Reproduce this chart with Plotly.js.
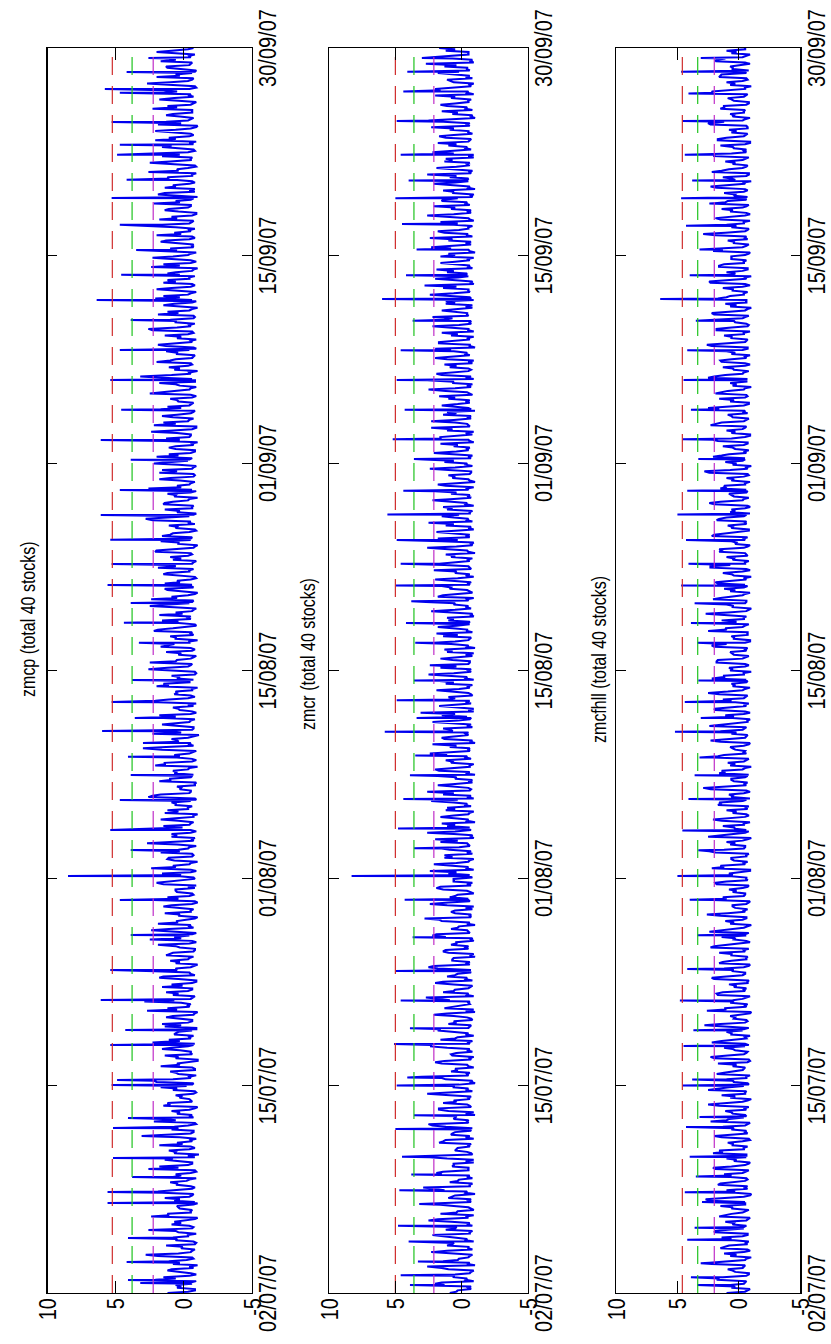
<!DOCTYPE html>
<html><head><meta charset="utf-8">
<script src="https://cdn.plot.ly/plotly-3.0.1.min.js"></script>
<style>
html,body{margin:0;padding:0;background:#fff;overflow:hidden;}
#wrap{position:relative;width:831px;height:1344px;overflow:hidden;background:#fff;}
#plot{position:absolute;left:0;top:0;width:1344px;height:681px;transform-origin:0 0;transform:translate(0px,1344px) rotate(-90deg) scale(1,1.22);}
</style></head>
<body><div id="wrap"><div id="plot"></div></div>
<script>
// ---- data ----
const dateTickLabels = ['02/07/07','15/07/07','01/08/07','15/08/07','01/09/07','15/09/07','30/09/07'];
const tradingDays = 63;
const valueTicks = [-5, 0, 5, 10];
const valueTickLabels = ['-5', '0', '5', '10'];
const panelTitles = ['zmcp (total 40 stocks)', 'zmcr (total 40 stocks)', 'zmcfhll (total 40 stocks)'];

// thresholds: red, green, magenta dashed levels
const thrZmcp = [5.25, 3.8, 2.25];
const thrZmcr = [5.0, 3.6, 2.1];
const thrZmcfhll = [4.6, 3.35, 2.0];

// intraday z-score band, sample set A
const baseZmcp = [
1.2,-0.8,0.6,-0.9,1.5,-0.5,0.9,-1.0,1.1,-0.6,0.4,-0.8,1.3,-0.7,0.8,
-0.9,1.6,-0.4,0.7,-1.0,1.2,-0.6,0.5,-0.8,1.4,-0.7,0.9,-0.5,1.0,-0.9,
0.6,-0.8,1.8,-0.6,0.8,-1.1,1.1,-0.5,0.5,-0.9,1.3,-0.7,0.7,-0.8,1.5,
-0.6,0.9,-1.0,1.2,-0.4,0.6,-0.8,1.7,-0.7,0.8,-0.9,1.0,-0.6,0.5,-1.0,
1.4,-0.5,0.9,-0.8,1.1,-0.7,0.4,-0.9,1.6,-0.6,0.8,-1.0,1.2,-0.5,0.7,
-0.8,1.3,-0.6,0.9,-0.9,1.5,-0.4,0.6,-1.0,1.0,-0.7,0.8,-0.8,1.9,-0.6,
0.7,-0.9,1.1,-0.5,0.5,-1.0,1.4,-0.7,0.9,-0.8,1.2,-0.6,0.6,-0.9,1.0,
-0.7,1.6,-0.5,0.8,-1.0,1.1,-0.6,0.4,-0.9,1.3,-0.8,0.9,-0.5,1.5,-0.7,
0.6,-1.0,1.2,-0.6,0.9,-0.8,1.7,-0.5,0.5,-0.9,1.0,-0.7,0.8,-1.0,1.4,
-0.6,0.7,-0.9,1.3,-0.5,0.9,-1.1,1.0,-0.7,0.6,-0.8,1.8,-0.6,0.8,-0.9,
1.1,-0.5,0.6,-1.0,1.5,-0.7,0.9,-0.8,1.2,-0.6,0.5,-0.9,1.3,-0.5,0.7,
-1.0,1.0,-0.6,0.8,-0.8,1.6,-0.5,0.6,-0.9,1.1,-0.7,0.9,-1.0,1.4,-0.6,
0.5,-0.8,1.2,-0.7,0.9,-0.9,1.0,-0.5,0.7,-1.0,1.7,-0.6,0.8,-0.8,1.1,
-0.5,0.6,-0.9,1.4,-0.7,0.8,-1.0,1.2,-0.6,0.5,-0.8,1.0,-0.7,1.6,-0.9,
0.9,-0.6,1.1,-0.8,0.6,-1.0,1.3,-0.5,0.8,-0.9,1.5,-0.7,0.5,-0.8,1.2,
-0.7,1.0,-0.5,0.7,-0.9,1.8,-0.6,0.9,-1.0,1.1,-0.5,0.6,-0.8,1.3,-0.7,
0.8,-0.9,1.4,-0.6,0.5,-0.8,1.0,-0.7,1.2,-1.0,0.7,-0.6,1.5,-0.9,0.9,
-0.6,1.2,-0.8,0.6,-1.0,1.5,-0.5,0.8,-0.9,1.0,-0.7,1.3,-0.6,0.7,-0.8,
1.6,-0.7,0.9,-0.9,1.1,-0.5,0.6,-1.0,1.4,-0.8,0.8,-0.6,1.2,-0.9,0.5,
-0.8,1.0,-0.6,1.7,-0.7,0.9,-0.9,1.1,-0.5,0.6,-1.0,1.3,-0.7,0.8,-0.6,
1.2,-0.9,0.7,-0.5,1.5,-0.8,1.0,-0.7,0.6,-0.9,1.3,-0.6,1.1,-0.8,0.9];
const baseZmcr = [
0.9,-0.7,1.3,-0.9,0.6,-0.6,1.0,-1.0,1.4,-0.5,0.7,-0.8,1.1,-0.9,0.5,
-0.6,1.2,-0.8,0.8,-0.5,1.6,-0.9,0.6,-0.7,1.0,-1.0,1.3,-0.6,0.9,-0.8,
1.5,-0.5,0.7,-0.9,1.1,-0.8,0.5,-0.6,1.7,-0.9,0.8,-0.7,1.2,-0.5,0.6,
-1.0,1.0,-0.7,1.4,-0.6,0.9,-0.8,0.6,-1.0,1.2,-0.5,0.8,-0.9,1.5,-0.7,
0.7,-0.8,1.1,-0.6,1.6,-0.9,0.8,-0.5,1.0,-0.8,0.6,-1.0,1.3,-0.6,0.9,
-0.9,1.4,-0.5,0.6,-0.8,1.1,-0.7,1.8,-0.6,0.7,-1.0,1.0,-0.5,0.8,-0.9,
1.2,-0.6,0.8,-1.0,1.5,-0.7,0.5,-0.8,1.1,-0.6,0.9,-0.9,1.4,-0.7,0.6,
-0.8,1.0,-0.9,0.7,-0.5,1.3,-0.8,0.9,-0.6,1.6,-0.9,0.6,-0.7,1.1,-1.0,
0.8,-0.5,1.2,-0.7,0.6,-0.9,1.4,-0.6,1.0,-0.8,0.5,-1.0,1.7,-0.6,0.8,
-0.7,1.1,-0.6,0.9,-1.0,1.3,-0.5,0.7,-0.8,1.0,-0.6,1.5,-0.9,0.6,-0.7,
1.0,-0.8,0.6,-0.6,1.2,-0.9,0.9,-0.7,1.6,-0.5,0.7,-0.8,1.1,-1.0,0.8,
-0.5,1.4,-0.8,0.7,-0.6,1.0,-0.9,1.2,-0.7,0.6,-0.5,1.8,-0.8,0.9,-0.6,
1.1,-0.9,0.5,-0.7,1.3,-0.6,0.8,-1.0,1.0,-0.8,1.5,-0.6,0.7,-0.9,1.2,
-0.8,0.6,-0.6,1.1,-0.9,1.4,-0.7,0.8,-0.5,1.2,-1.0,0.7,-0.6,1.0,-0.8,
1.3,-0.7,0.9,-0.5,0.6,-0.9,1.6,-0.8,1.1,-0.6,0.5,-0.7,1.4,-1.0,0.8,
-0.6,1.0,-0.8,1.2,-0.7,0.7,-0.9,1.5,-0.5,0.9,-0.8,1.1,-0.6,0.6,-1.0,
1.7,-0.6,0.8,-0.9,1.0,-0.7,1.3,-0.5,0.6,-0.8,1.2,-0.9,0.9,-0.6,1.4,
-0.9,0.7,-0.5,1.1,-0.8,0.9,-0.6,1.6,-1.0,0.8,-0.7,1.0,-0.8,1.3,-0.5,
0.6,-0.9,1.2,-0.7,0.8,-0.6,1.5,-0.8,0.7,-1.0,1.1,-0.5,0.9,-0.7,1.0,
-0.6,1.3,-0.9,0.6,-0.7,1.0,-0.5,1.2,-0.8,0.9,-0.6,1.4,-1.0,0.7,-0.8,
1.1,-0.5,0.8,-0.9,1.6,-0.7,0.6,-0.8,1.0,-0.6,1.3,-0.9,0.7,-0.5,1.2];
const baseZmcfhll = [
1.0,-0.9,0.7,-0.6,1.3,-0.8,0.9,-0.5,0.6,-1.0,1.2,-0.7,0.8,-0.8,1.4,
-0.7,0.9,-0.6,1.1,-0.9,0.6,-0.8,1.5,-0.5,0.8,-1.0,1.0,-0.7,0.7,-0.6,
1.2,-0.8,0.6,-0.9,1.0,-0.6,1.6,-0.7,0.9,-0.8,0.5,-0.6,1.3,-0.9,0.8,
-0.5,1.1,-0.8,0.7,-1.0,1.4,-0.6,0.8,-0.7,1.0,-0.9,0.6,-0.5,1.7,-0.8,
0.9,-0.7,1.2,-0.5,0.6,-0.9,1.0,-0.8,1.5,-0.6,0.7,-1.0,1.1,-0.7,0.5,
-0.9,1.3,-0.6,0.8,-0.8,1.0,-0.5,1.2,-0.9,0.6,-0.7,1.6,-0.8,0.9,-0.6,
1.4,-0.8,0.7,-1.0,1.1,-0.6,0.9,-0.7,0.5,-0.9,1.3,-0.5,0.8,-0.8,1.0,
-0.6,0.8,-0.9,1.5,-0.7,0.6,-0.8,1.2,-0.5,1.0,-1.0,0.7,-0.6,1.3,-0.9,
0.7,-0.6,1.0,-0.8,1.6,-0.9,0.8,-0.6,1.1,-0.7,0.6,-0.8,1.4,-1.0,0.9,
-0.8,1.2,-0.5,0.7,-0.9,1.0,-0.7,1.5,-0.6,0.8,-0.9,1.1,-0.5,0.6,-0.8,
1.3,-0.7,0.9,-0.9,0.6,-0.6,1.2,-1.0,0.8,-0.5,1.7,-0.8,0.7,-0.7,1.0,
-0.9,0.6,-0.7,1.1,-0.8,1.4,-0.6,0.9,-1.0,1.0,-0.6,0.7,-0.9,1.2,-0.5,
0.8,-1.0,1.3,-0.6,0.7,-0.8,1.0,-0.5,1.6,-0.9,0.6,-0.7,1.1,-0.8,0.9,
-0.6,1.0,-0.9,0.6,-0.7,1.5,-0.8,0.8,-0.6,1.2,-0.9,1.0,-0.7,0.7,-1.0,
1.1,-0.5,0.8,-0.8,1.3,-0.7,0.6,-0.9,1.0,-0.6,1.4,-0.8,0.9,-0.5,0.7,
-0.8,1.6,-0.6,0.9,-1.0,0.7,-0.7,1.1,-0.8,1.3,-0.5,0.6,-0.9,1.0,-0.7,
0.9,-0.7,1.2,-0.9,0.6,-0.6,1.5,-0.8,0.8,-1.0,1.1,-0.6,0.7,-0.7,1.3,
-0.5,0.8,-1.0,1.0,-0.7,1.2,-0.6,0.6,-0.9,1.6,-0.8,0.9,-0.6,1.1,-0.8,
1.0,-0.9,0.7,-0.6,1.4,-0.8,0.9,-0.7,1.2,-0.5,0.6,-1.0,1.3,-0.8,0.8,
-0.7,1.1,-0.8,0.6,-0.6,1.5,-0.9,1.0,-0.7,0.8,-0.6,1.2,-0.9,0.7,-0.5,
1.2,-0.8,0.9,-0.7,0.6,-1.0,1.0,-0.6,1.4,-0.8,0.7,-0.5,1.1,-0.9,1.0];

// sample set B
const midZmcp = [
-0.3,0.5,-0.6,2.1,-0.4,0.3,-0.7,0.8,-0.2,1.9,-0.5,0.2,-0.8,0.6,-0.3,
0.4,-0.6,0.9,-0.3,2.4,-0.5,0.3,-0.7,0.7,-0.4,1.6,-0.6,0.5,-0.2,0.8,
-0.5,2.6,-0.3,0.4,-0.8,0.7,-0.4,1.8,-0.6,0.3,-0.5,0.9,-0.3,2.2,-0.7,
0.5,-0.4,1.5,-0.6,0.3,-0.7,0.8,-0.2,2.0,-0.5,0.4,-0.8,1.7,-0.4,0.6,
-0.6,0.3,-0.3,2.3,-0.5,0.7,-0.6,1.4,-0.3,0.5,-0.7,2.7,-0.4,0.2,-0.5,
0.8,-0.3,1.6,-0.6,0.4,-0.8,2.1,-0.5,0.6,-0.3,1.3,-0.7,0.3,-0.4,2.5,
-0.4,0.6,-0.7,1.9,-0.3,0.4,-0.5,0.8,-0.6,2.2,-0.4,0.5,-0.8,1.5,-0.3,
0.3,-0.5,2.4,-0.4,0.7,-0.6,1.7,-0.3,0.5,-0.7,0.9,-0.5,2.0,-0.4,0.4,
-0.7,1.4,-0.3,0.6,-0.5,2.6,-0.4,0.3,-0.8,1.8,-0.5,0.7,-0.3,2.1,-0.6,
0.5,-0.4,1.6,-0.7,0.4,-0.3,2.3,-0.6,0.8,-0.4,1.5,-0.5,0.3,-0.7,1.9,
-0.3,0.7,-0.6,2.0,-0.4,0.5,-0.8,1.3,-0.3,2.5,-0.5,0.4,-0.6,1.7,-0.4,
0.6,-0.7,2.2,-0.3,0.4,-0.5,1.8,-0.6,0.7,-0.4,2.4,-0.3,0.5,-0.7,1.4,
-0.5,0.3,-0.4,1.9,-0.6,0.8,-0.3,2.1,-0.7,0.4,-0.5,1.6,-0.4,0.6,-0.8,
2.3,-0.4,0.5,-0.6,1.5,-0.3,0.7,-0.5,2.6,-0.4,0.3,-0.7,1.8,-0.6,0.4,
-0.3,2.0,-0.5,0.6,-0.7,1.4,-0.4,0.5,-0.6,2.2,-0.3,0.8,-0.5,1.7,-0.4,
0.4,-0.6,2.5,-0.4,0.3,-0.8,1.6,-0.5,0.7,-0.3,2.0,-0.6,0.5,-0.4,1.3,
-0.6,0.5,-0.3,2.3,-0.5,0.6,-0.7,1.9,-0.4,0.4,-0.6,2.1,-0.3,0.7,-0.5,
1.5,-0.4,0.3,-0.6,2.4,-0.5,0.8,-0.3,1.7,-0.7,0.5,-0.4,2.0,-0.5,0.6,
-0.4,1.8,-0.6,0.4,-0.3,2.2,-0.5,0.7,-0.8,1.4,-0.4,0.5,-0.6,2.6,-0.3,
0.7,-0.5,1.6,-0.3,0.4,-0.7,2.1,-0.4,0.6,-0.5,1.9,-0.3,0.3,-0.6,2.3,
-0.5,0.4,-0.7,1.5,-0.4,0.8,-0.3,2.0,-0.6,0.5,-0.4,1.7,-0.5,0.6,-0.3];
const midZmcr = [
0.4,-0.5,2.0,-0.3,0.6,-0.7,1.5,-0.4,0.3,-0.6,2.3,-0.5,0.7,-0.3,1.8,
-0.6,0.5,-0.4,2.5,-0.3,0.4,-0.7,1.6,-0.5,0.8,-0.3,2.1,-0.6,0.3,-0.4,
1.9,-0.5,0.6,-0.3,2.4,-0.7,0.4,-0.5,1.4,-0.3,0.7,-0.6,2.2,-0.4,0.5,
-0.3,1.7,-0.6,0.4,-0.5,2.6,-0.3,0.6,-0.7,1.5,-0.4,0.3,-0.5,2.0,-0.6,
0.8,-0.4,2.3,-0.5,0.5,-0.3,1.8,-0.6,0.4,-0.7,2.1,-0.3,0.6,-0.5,1.6,
-0.4,0.6,-0.7,2.0,-0.3,0.5,-0.5,2.5,-0.4,0.7,-0.6,1.4,-0.3,0.4,-0.7,
2.2,-0.5,0.3,-0.4,1.7,-0.6,0.8,-0.3,2.4,-0.5,0.5,-0.7,1.9,-0.4,0.6,
-0.5,0.4,-0.3,2.1,-0.6,0.7,-0.4,1.5,-0.5,0.3,-0.7,2.6,-0.3,0.5,-0.4,
1.6,-0.6,0.5,-0.3,2.3,-0.4,0.6,-0.7,1.8,-0.5,0.4,-0.3,2.0,-0.6,0.7,
-0.3,2.4,-0.5,0.4,-0.6,1.5,-0.3,0.8,-0.4,2.2,-0.7,0.5,-0.5,1.7,-0.3,
0.5,-0.7,1.9,-0.4,0.6,-0.3,2.5,-0.5,0.4,-0.6,1.6,-0.3,0.7,-0.4,2.1,
-0.6,0.3,-0.4,1.8,-0.5,0.6,-0.7,2.3,-0.3,0.5,-0.4,1.4,-0.6,0.8,-0.5,
2.0,-0.3,0.4,-0.6,1.7,-0.4,0.5,-0.5,2.6,-0.7,0.3,-0.3,1.9,-0.5,0.6,
-0.4,1.5,-0.6,0.7,-0.3,2.2,-0.5,0.4,-0.4,1.8,-0.6,0.5,-0.7,2.4,-0.3,
0.6,-0.5,2.1,-0.4,0.3,-0.6,1.6,-0.3,0.7,-0.5,2.3,-0.4,0.4,-0.7,1.5,
-0.3,0.5,-0.6,2.5,-0.4,0.6,-0.3,1.9,-0.7,0.4,-0.5,2.0,-0.3,0.8,-0.6,
1.7,-0.4,0.3,-0.5,2.2,-0.6,0.7,-0.4,1.5,-0.3,0.5,-0.7,2.4,-0.5,0.4,
-0.7,2.0,-0.3,0.6,-0.5,1.6,-0.4,0.5,-0.6,2.3,-0.3,0.7,-0.4,1.8,-0.5,
0.3,-0.6,2.6,-0.4,0.5,-0.3,1.4,-0.7,0.6,-0.5,2.1,-0.4,0.4,-0.6,1.9,
-0.4,0.7,-0.5,2.2,-0.3,0.4,-0.6,1.7,-0.5,0.6,-0.4,2.5,-0.7,0.3,-0.3,
1.6,-0.5,0.5,-0.4,2.0,-0.6,0.8,-0.3,1.8,-0.4,0.4,-0.6,2.3,-0.5,0.5];
const midZmcfhll = [
-0.5,0.6,-0.4,1.8,-0.6,0.3,-0.3,2.2,-0.5,0.7,-0.4,1.5,-0.7,0.4,-0.3,
2.0,-0.4,0.5,-0.6,1.6,-0.3,0.6,-0.5,2.4,-0.4,0.3,-0.7,1.7,-0.5,0.7,
-0.3,1.9,-0.5,0.4,-0.6,2.1,-0.4,0.5,-0.3,1.4,-0.7,0.6,-0.5,2.3,-0.4,
0.5,-0.6,1.6,-0.3,0.7,-0.5,2.5,-0.4,0.4,-0.6,1.8,-0.3,0.5,-0.7,2.0,
-0.4,0.3,-0.5,2.2,-0.6,0.6,-0.3,1.5,-0.5,0.4,-0.4,2.6,-0.6,0.7,-0.3,
1.7,-0.5,0.4,-0.7,2.0,-0.3,0.5,-0.4,1.6,-0.6,0.6,-0.5,2.3,-0.3,0.4,
-0.6,2.4,-0.4,0.7,-0.3,1.5,-0.5,0.3,-0.6,2.1,-0.4,0.5,-0.3,1.8,-0.7,
0.6,-0.3,2.2,-0.5,0.4,-0.6,1.9,-0.4,0.7,-0.3,2.5,-0.5,0.3,-0.4,1.4,
-0.5,0.5,-0.7,1.7,-0.3,0.6,-0.4,2.3,-0.6,0.4,-0.5,1.6,-0.3,0.7,-0.4,
2.1,-0.6,0.3,-0.4,1.5,-0.5,0.6,-0.3,2.4,-0.7,0.5,-0.4,1.9,-0.6,0.3,
-0.4,1.6,-0.3,0.5,-0.6,2.2,-0.4,0.7,-0.5,1.8,-0.3,0.4,-0.6,2.0,-0.5,
0.4,-0.7,2.5,-0.3,0.6,-0.4,1.4,-0.6,0.5,-0.5,2.1,-0.3,0.7,-0.4,1.7,
-0.6,0.4,-0.3,2.3,-0.5,0.5,-0.7,1.6,-0.4,0.3,-0.5,2.2,-0.3,0.6,-0.6,
1.8,-0.4,0.7,-0.5,2.0,-0.3,0.4,-0.6,1.5,-0.5,0.6,-0.4,2.4,-0.7,0.5,
-0.3,2.1,-0.6,0.3,-0.4,1.7,-0.5,0.6,-0.3,2.3,-0.4,0.5,-0.7,1.6,-0.4,
0.7,-0.5,1.9,-0.4,0.5,-0.6,2.5,-0.3,0.4,-0.5,1.4,-0.6,0.6,-0.3,2.2,
-0.5,0.6,-0.4,1.8,-0.7,0.3,-0.3,2.0,-0.5,0.7,-0.6,1.7,-0.4,0.5,-0.3,
2.3,-0.6,0.5,-0.3,1.6,-0.4,0.6,-0.5,2.1,-0.3,0.4,-0.7,1.9,-0.5,0.6,
-0.4,1.5,-0.5,0.7,-0.3,2.4,-0.6,0.4,-0.4,1.8,-0.5,0.3,-0.6,2.2,-0.3,
0.5,-0.3,2.0,-0.6,0.4,-0.5,1.7,-0.4,0.6,-0.7,2.3,-0.3,0.5,-0.4,1.5,
-0.6,0.4,-0.4,2.1,-0.5,0.7,-0.3,1.6,-0.6,0.5,-0.4,1.9,-0.3,0.6,-0.5];

// sample set C
const thirdZmcp = [
-0.8,0.2,-0.5,0.6,-0.9,1.2,-0.4,0.3,-0.7,2.8,-0.6,0.1,-0.9,0.5,-0.3,
0.6,-0.7,0.2,-0.8,1.1,-0.5,0.4,-1.0,0.3,-0.6,1.9,-0.8,0.5,-0.4,0.2,
-0.9,0.4,-0.6,1.4,-0.3,0.6,-0.8,0.1,-0.5,3.1,-0.7,0.4,-0.9,0.6,-0.4,
0.3,-0.8,1.0,-0.5,0.2,-0.9,0.5,-0.6,2.2,-0.4,0.6,-0.8,0.3,-1.0,0.4,
-0.5,1.6,-0.7,0.3,-0.4,0.6,-0.9,0.2,-0.6,1.3,-0.8,0.5,-0.3,2.9,-0.7,
0.4,-0.6,0.1,-0.9,1.8,-0.5,0.5,-0.7,0.3,-0.4,1.1,-0.8,0.6,-0.9,0.2,
-0.6,2.4,-0.4,0.5,-0.8,0.3,-0.5,1.5,-1.0,0.4,-0.7,0.6,-0.3,2.0,-0.8,
0.2,-0.9,0.6,-0.5,1.2,-0.7,0.3,-0.4,2.7,-0.6,0.5,-0.9,0.1,-0.5,1.7,
-0.7,0.4,-0.3,0.6,-0.9,2.3,-0.5,0.2,-0.8,1.0,-0.6,0.5,-0.4,1.4,-0.9,
0.3,-0.6,3.0,-0.4,0.5,-0.8,0.2,-0.7,1.6,-0.5,0.6,-0.9,0.4,-0.3,2.1,
-0.8,0.5,-0.6,1.1,-0.4,0.3,-0.9,2.6,-0.5,0.6,-0.7,0.2,-0.8,1.3,-0.4,
0.6,-0.5,1.9,-0.9,0.4,-0.3,0.1,-0.7,2.5,-0.6,0.5,-0.8,1.2,-0.5,0.3,
-0.9,1.5,-0.4,0.6,-0.7,0.2,-0.6,2.0,-0.8,0.4,-0.5,1.0,-0.9,0.5,-0.3,
2.8,-0.7,0.3,-0.6,1.4,-0.4,0.6,-0.9,0.2,-0.5,1.8,-0.8,0.5,-0.7,2.2,
-0.4,0.4,-0.8,1.1,-0.6,0.3,-0.5,2.4,-0.9,0.6,-0.4,1.6,-0.7,0.2,-0.6,
0.5,-0.9,1.3,-0.5,0.6,-0.8,3.2,-0.4,0.3,-0.6,1.0,-0.7,0.5,-0.9,1.9,
-0.5,0.2,-0.7,2.6,-0.4,0.6,-0.8,0.4,-0.6,1.5,-0.9,0.3,-0.5,2.0,-0.8,
0.6,-0.4,1.2,-0.7,0.3,-0.9,2.3,-0.5,0.5,-0.6,1.7,-0.8,0.2,-0.4,2.9,
-0.6,0.5,-0.9,1.4,-0.5,0.3,-0.7,1.9,-0.4,0.6,-0.8,1.1,-0.6,0.4,-0.9,
2.5,-0.5,0.3,-0.8,1.6,-0.4,0.6,-0.7,2.1,-0.9,0.2,-0.5,1.3,-0.6,0.5,
-0.7,1.8,-0.4,0.5,-0.9,2.7,-0.6,0.3,-0.8,1.2,-0.5,0.6,-0.4,2.0,-0.7];
const thirdZmcr = [
0.3,-0.7,1.5,-0.4,0.5,-0.9,2.6,-0.6,0.2,-0.8,1.1,-0.5,0.6,-0.4,2.2,
-0.8,0.4,-0.6,1.8,-0.9,0.3,-0.5,1.0,-0.7,0.5,-0.4,2.9,-0.8,0.2,-0.6,
1.4,-0.5,0.6,-0.9,2.0,-0.4,0.3,-0.7,1.2,-0.6,0.5,-0.8,2.5,-0.5,0.4,
-0.9,1.7,-0.4,0.6,-0.7,1.0,-0.5,0.2,-0.8,3.0,-0.6,0.5,-0.4,1.3,-0.9,
0.4,-0.6,2.3,-0.8,0.3,-0.5,1.6,-0.7,0.6,-0.4,1.1,-0.9,0.2,-0.6,2.7,
-0.5,0.5,-0.8,1.4,-0.4,0.3,-0.7,2.1,-0.6,0.6,-0.9,1.2,-0.5,0.4,-0.8,
1.9,-0.4,0.2,-0.6,2.8,-0.7,0.5,-0.9,1.0,-0.5,0.3,-0.4,1.6,-0.8,0.6,
-0.6,2.4,-0.5,0.4,-0.9,1.3,-0.7,0.2,-0.4,2.0,-0.8,0.5,-0.6,1.5,-0.5,
0.6,-0.9,1.1,-0.4,0.3,-0.7,2.6,-0.5,0.5,-0.8,1.8,-0.6,0.2,-0.9,1.2,
-0.4,0.4,-0.6,2.2,-0.8,0.6,-0.5,1.4,-0.7,0.3,-0.4,3.1,-0.9,0.5,-0.6,
1.0,-0.5,0.2,-0.8,1.7,-0.4,0.6,-0.7,2.4,-0.6,0.3,-0.9,1.3,-0.5,0.5,
-0.7,1.9,-0.4,0.4,-0.6,1.1,-0.8,0.5,-0.5,2.7,-0.9,0.2,-0.4,1.5,-0.7,
0.3,-0.6,2.1,-0.5,0.6,-0.8,1.2,-0.4,0.4,-0.9,1.8,-0.6,0.5,-0.7,2.5,
-0.5,0.2,-0.8,1.4,-0.4,0.6,-0.6,2.0,-0.9,0.3,-0.5,1.0,-0.7,0.5,-0.4,
2.9,-0.8,0.4,-0.6,1.6,-0.5,0.2,-0.9,2.3,-0.4,0.6,-0.7,1.1,-0.5,0.3,
-0.6,1.7,-0.4,0.5,-0.8,2.6,-0.7,0.3,-0.5,1.3,-0.9,0.6,-0.4,2.0,-0.6,
0.4,-0.9,1.5,-0.5,0.2,-0.7,2.2,-0.4,0.5,-0.8,1.2,-0.6,0.6,-0.5,2.8,
-0.8,0.3,-0.4,1.9,-0.6,0.5,-0.9,1.0,-0.5,0.4,-0.7,2.4,-0.4,0.2,-0.8,
1.6,-0.5,0.6,-0.7,2.1,-0.4,0.3,-0.9,1.4,-0.6,0.5,-0.5,2.6,-0.8,0.4,
-0.6,1.2,-0.9,0.2,-0.4,1.8,-0.7,0.6,-0.5,2.3,-0.6,0.3,-0.8,1.5,-0.4,
0.5,-0.7,2.0,-0.5,0.4,-0.9,1.1,-0.6,0.2,-0.4,2.7,-0.8,0.6,-0.5,1.7];
const thirdZmcfhll = [
-0.7,0.3,-0.5,1.6,-0.8,0.5,-0.4,2.4,-0.6,0.2,-0.9,1.2,-0.5,0.6,-0.7,
1.9,-0.4,0.4,-0.8,1.1,-0.6,0.5,-0.5,2.7,-0.9,0.3,-0.4,1.5,-0.7,0.6,
-0.5,2.1,-0.8,0.2,-0.6,1.3,-0.4,0.5,-0.9,2.0,-0.5,0.4,-0.7,1.0,-0.6,
0.6,-0.4,2.5,-0.7,0.3,-0.5,1.7,-0.8,0.5,-0.6,1.2,-0.4,0.2,-0.9,2.3,
-0.6,0.5,-0.8,1.4,-0.5,0.6,-0.4,2.8,-0.7,0.3,-0.9,1.1,-0.5,0.4,-0.6,
1.8,-0.4,0.2,-0.7,2.2,-0.5,0.5,-0.8,1.3,-0.6,0.6,-0.4,2.0,-0.9,0.3,
-0.5,1.5,-0.7,0.4,-0.6,2.6,-0.4,0.5,-0.8,1.0,-0.5,0.2,-0.7,1.9,-0.6,
0.5,-0.9,1.2,-0.4,0.6,-0.6,2.4,-0.5,0.3,-0.7,1.6,-0.8,0.4,-0.4,2.1,
-0.8,0.2,-0.5,1.4,-0.6,0.5,-0.9,2.9,-0.4,0.6,-0.7,1.1,-0.5,0.3,-0.6,
1.7,-0.4,0.5,-0.8,2.3,-0.6,0.2,-0.5,1.3,-0.7,0.4,-0.9,2.0,-0.4,0.6,
-0.6,2.5,-0.5,0.3,-0.7,1.2,-0.4,0.5,-0.8,1.8,-0.6,0.6,-0.5,2.2,-0.9,
0.4,-0.7,1.0,-0.5,0.2,-0.4,2.7,-0.8,0.5,-0.6,1.5,-0.5,0.3,-0.7,1.9,
-0.4,0.6,-0.9,2.3,-0.5,0.4,-0.6,1.3,-0.7,0.2,-0.4,2.0,-0.8,0.5,-0.5,
1.6,-0.6,0.3,-0.9,2.4,-0.4,0.6,-0.7,1.1,-0.5,0.4,-0.8,2.8,-0.6,0.2,
-0.5,1.4,-0.4,0.5,-0.7,2.1,-0.9,0.3,-0.5,1.7,-0.6,0.6,-0.4,2.5,-0.8,
0.4,-0.7,1.2,-0.5,0.2,-0.6,2.0,-0.4,0.5,-0.9,1.5,-0.5,0.3,-0.7,2.6,
-0.6,0.6,-0.4,1.8,-0.8,0.4,-0.5,2.2,-0.7,0.2,-0.6,1.0,-0.4,0.5,-0.9,
2.4,-0.5,0.3,-0.7,1.6,-0.4,0.6,-0.8,1.3,-0.6,0.4,-0.5,2.9,-0.7,0.2,
-0.4,1.9,-0.9,0.5,-0.6,1.1,-0.5,0.3,-0.7,2.3,-0.4,0.6,-0.8,1.4,-0.6,
0.3,-0.5,2.0,-0.4,0.5,-0.9,1.7,-0.6,0.2,-0.7,2.5,-0.5,0.4,-0.4,1.2,
-0.8,0.6,-0.6,2.2,-0.5,0.3,-0.7,1.5,-0.4,0.5,-0.9,1.8,-0.6,0.2,-0.5];

// opening spikes: position (trading days) and value
const spikeDayZmcp = [0.5,0.66,1.57,2.78,3.19,4.55,5.11,5.87,6.83,8.35,8.86,10.53,10.78,12.55,13.31,14.83,16.35,18.12,19.89,21.1,22.42,23.43,24.95,26.21,27.13,27.83,28.44,29.1,29.91,31.02,32.9,33.91,34.92,35.83,36.89,38.11,39.37,40.64,42.16,43.17,44.69,46.2,47.72,49.24,50.25,51.52,52.78,54.05,55.41,56.33,57.6,58.1,59.26,60.73,60.93,61.79,62.5];
const spikeValZmcp = [3.2,4.1,4.2,4.1,2.6,5.6,5.6,3.8,5.2,5.2,4.1,5.3,4.9,5.4,4.3,6.1,5.4,3.9,4.7,8.5,3.9,5.4,4.7,3.9,4.1,3.0,6.0,3.6,5.3,3.8,3.3,4.4,3.9,5.6,5.3,5.4,6.1,4.7,3.9,6.1,4.6,5.4,4.7,3.9,6.4,4.6,3.5,4.7,5.3,4.2,4.9,4.7,5.3,4.7,5.8,4.2,2.6];
const spikeDayZmcr = [0.4,0.9,1.6,2.6,3.4,4.5,5.2,6.0,6.9,8.3,9.0,10.5,10.9,12.6,13.4,14.8,16.3,18.0,19.9,21.1,22.5,23.5,25.0,26.2,27.2,28.4,29.1,30.0,31.0,32.9,33.9,35.0,35.8,36.9,38.1,39.4,40.6,42.2,43.2,44.7,46.2,47.7,49.2,50.3,51.5,52.8,54.1,55.4,56.3,57.6,59.3,60.8,61.8,62.5];
const spikeValZmcr = [3.9,4.6,3.3,4.0,4.8,3.2,4.7,3.8,4.5,5.0,3.6,4.9,4.1,5.1,3.9,4.6,5.0,3.7,4.3,8.3,3.6,4.8,4.4,3.9,3.5,5.8,3.4,4.9,3.6,3.5,4.2,3.8,5.0,4.6,4.9,5.6,4.4,3.6,5.2,4.3,4.9,4.6,3.7,6.0,4.2,3.4,4.5,5.0,4.0,4.6,4.9,4.4,4.1,3.0];
const spikeDayZmcfhll = [0.4,0.8,1.5,2.7,3.3,4.6,5.1,5.9,6.9,8.4,8.9,10.5,10.8,12.5,13.3,14.8,16.4,18.1,19.9,21.1,22.4,23.4,25.0,26.2,27.1,28.4,29.1,29.9,31.0,32.9,33.9,34.9,35.8,36.9,38.1,39.4,40.6,42.2,43.2,44.7,46.2,47.7,49.2,50.3,51.5,52.8,54.0,55.4,56.3,57.6,59.3,60.7,61.8,62.5];
const spikeValZmcfhll = [3.4,3.9,3.1,4.2,3.6,3.0,4.4,3.5,4.0,4.3,3.2,4.6,3.8,4.5,3.7,4.8,4.2,3.4,4.0,5.0,3.3,4.6,4.1,3.6,3.2,5.2,3.1,4.4,3.3,3.4,3.9,3.6,4.7,4.1,4.3,5.0,4.2,3.3,4.6,3.9,4.5,4.2,3.5,6.4,4.0,3.2,4.3,4.7,3.8,4.4,4.6,4.1,4.7,3.1];

// ---- build ----
function buildSeries(sets, sDay, sVal) {
  const merged = [];
  for (let i = 0; i < sets[0].length; i++) sets.forEach(s => { if (i < s.length) merged.push(s[i]); });
  const n = merged.length, pts = [];
  for (let i = 0; i < n; i++) pts.push([i * tradingDays / (n - 1), merged[i]]);
  for (let j = 0; j < sDay.length; j++) pts.push([sDay[j], sVal[j]]);
  pts.sort((a, b) => a[0] - b[0]);
  return {x: pts.map(p => p[0]), y: pts.map(p => p[1])};
}
const tickPos = dateTickLabels.map((d, i) => i * tradingDays / (dateTickLabels.length - 1));
const panels = [
  {sets: [baseZmcp, midZmcp, thirdZmcp], sd: spikeDayZmcp, sv: spikeValZmcp, thr: thrZmcp},
  {sets: [baseZmcr, midZmcr, thirdZmcr], sd: spikeDayZmcr, sv: spikeValZmcr, thr: thrZmcr},
  {sets: [baseZmcfhll, midZmcfhll, thirdZmcfhll], sd: spikeDayZmcfhll, sv: spikeValZmcfhll, thr: thrZmcfhll}
];
const thrColors = ['#d03030', '#22c422', '#c030c8'];
const traces = [];
panels.forEach((p, k) => {
  const xa = k === 0 ? 'x' : 'x' + (k + 1), ya = k === 0 ? 'y' : 'y' + (k + 1);
  const s = buildSeries(p.sets, p.sd, p.sv);
  traces.push({x: s.x, y: s.y, xaxis: xa, yaxis: ya, mode: 'lines', type: 'scatter',
    line: {color: '#0000ee', width: 2}, hoverinfo: 'skip'});
  p.thr.forEach((t, j) => {
    traces.push({x: [0, tradingDays], y: [t, t], xaxis: xa, yaxis: ya, mode: 'lines', type: 'scatter',
      line: {color: thrColors[j], width: 1, dash: '18px,11px'}, hoverinfo: 'skip'});
  });
});
const fontFam = 'Liberation Sans, Arial, sans-serif';
function xAxis(anchor) {
  return {anchor: anchor, domain: [0, 1], range: [0, tradingDays], tickvals: tickPos, ticktext: dateTickLabels,
    ticks: 'inside', ticklen: 8, tickcolor: '#000', showline: true, linecolor: '#000', linewidth: 1,
    mirror: 'ticks', showgrid: false, zeroline: false, ticklabelstandoff: -5,
    tickfont: {size: 20, family: fontFam, color: '#000'}};
}
function yAxis(anchor, dom) {
  return {anchor: anchor, domain: dom, range: [-5, 10], tickvals: valueTicks, ticktext: valueTickLabels,
    ticks: 'inside', ticklen: 12, tickcolor: '#000', showline: true, linecolor: '#000', linewidth: 1,
    mirror: 'ticks', showgrid: false, zeroline: false, tickfont: {size: 20, family: fontFam, color: '#000'}};
}
const doms = [[0.7284, 1], [0.3617, 0.6261], [0, 0.2449]];
const shifts = [5, 7, 3];
const titleX = [0.541, 0.513, 0.509];
const layout = {
  width: 1344, height: 681, margin: {l: 51, r: 48, t: 39, b: 25},
  paper_bgcolor: '#fff', plot_bgcolor: '#fff', showlegend: false,
  font: {family: fontFam, color: '#000'},
  xaxis: xAxis('y'), yaxis: yAxis('x', doms[0]),
  xaxis2: xAxis('y2'), yaxis2: yAxis('x2', doms[1]),
  xaxis3: xAxis('y3'), yaxis3: yAxis('x3', doms[2]),
  annotations: panelTitles.map((t, k) => ({text: t, xref: 'paper', yref: 'paper', x: titleX[k], y: doms[k][1],
    xanchor: 'center', yanchor: 'bottom', yshift: shifts[k], showarrow: false,
    font: {size: 16, family: fontFam, color: '#000'}}))
};
Plotly.newPlot('plot', traces, layout, {displayModeBar: false, staticPlot: true});
</script></body></html>
